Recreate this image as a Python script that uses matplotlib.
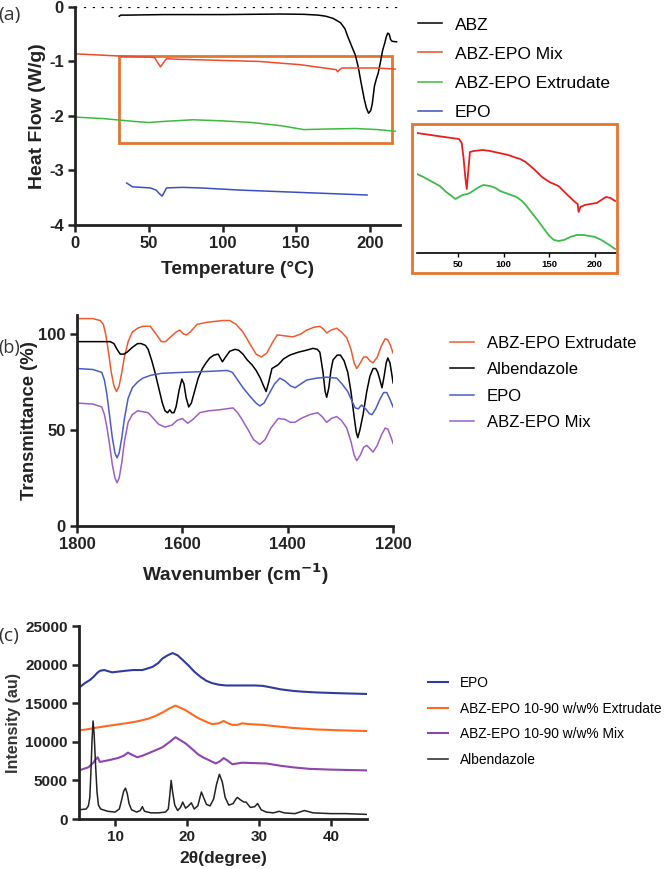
import matplotlib.pyplot as plt
from matplotlib.patches import Rectangle

plt.rcParams["font.family"] = ["Liberation Sans", "DejaVu Sans"]
plt.rcParams["axes.unicode_minus"] = False

# ---------------- (a) DSC ----------------
abz_t = [30, 31, 35, 60, 100, 139, 155, 165, 170, 175, 180, 183, 185, 188, 190, 192, 194,
         196, 197.5, 199, 200.5, 201.5, 203, 204.5, 205.5, 207, 208.5, 210, 211, 212, 213,
         214, 215, 218]
abz_hf = [-0.17, -0.15, -0.15, -0.14, -0.14, -0.13, -0.135, -0.15, -0.17, -0.21, -0.29,
          -0.40, -0.55, -0.75, -0.88, -1.10, -1.40, -1.68, -1.85, -1.95, -1.90, -1.78,
          -1.45, -1.30, -1.22, -1.02, -0.80, -0.66, -0.55, -0.48, -0.50, -0.60, -0.63, -0.64]

mix_t = [0, 30, 50, 54, 56, 58, 60, 62, 70, 85, 125, 153, 177, 178, 179, 181, 204, 217]
mix_hf = [-0.86, -0.9, -0.92, -0.93, -1.02, -1.10, -1.02, -0.95, -0.96, -0.97, -1.0,
          -1.06, -1.15, -1.19, -1.16, -1.12, -1.12, -1.14]

ext_t = [0, 20, 40, 50, 60, 80, 100, 120, 140, 155, 170, 190, 205, 217]
ext_hf = [-2.02, -2.05, -2.10, -2.12, -2.10, -2.07, -2.09, -2.12, -2.18, -2.25, -2.24,
          -2.23, -2.25, -2.28]

epo_t = [35, 39, 51, 55, 57, 59, 60.5, 62, 73, 85, 112, 150, 198]
epo_hf = [-3.23, -3.30, -3.32, -3.36, -3.42, -3.47, -3.40, -3.32, -3.31, -3.32, -3.36,
          -3.40, -3.45]

# inset (magnified view, arbitrary units)
ins_red_t = [5, 20, 35, 51, 54, 56, 58, 59.5, 61, 63, 67, 77, 85, 95, 105, 111, 118, 124,
             133, 142, 150, 160, 170, 178, 181, 182, 184, 189, 195, 202, 207, 212, 217, 222]
ins_red = [120, 118, 116, 114, 110, 95, 75, 64, 80, 101, 102, 103, 102, 100, 98, 96, 94,
           91, 84, 76, 71, 67, 58, 51, 49, 41, 46, 48, 49, 50, 53, 56, 55, 52]
ins_grn_t = [5, 12, 22, 30, 37, 43, 47, 51, 55, 60, 63, 68, 73, 78, 85, 91, 96, 102, 108,
             114, 120, 125, 130, 137, 145, 150, 155, 160, 166, 173, 180, 187, 194, 200,
             207, 214, 222]
ins_grn = [79, 76, 71, 67, 61, 57, 54, 56, 58, 59, 60, 63, 66, 68, 67, 65, 62, 60, 58, 56,
           52, 47, 41, 33, 23, 17, 13, 12, 13, 16, 18, 18, 17, 16, 13, 9, 4]

# ---------------- (b) FTIR ----------------
ext_wn = [1800, 1770, 1756, 1750, 1745, 1740, 1735, 1730, 1725, 1720, 1715, 1710, 1703,
          1695, 1685, 1675, 1661, 1650, 1640, 1632, 1624, 1612, 1605, 1598, 1592, 1585,
          1572, 1555, 1540, 1523, 1510, 1498, 1485, 1470, 1460, 1450, 1440, 1430, 1420,
          1405, 1390, 1375, 1364, 1350, 1339, 1332, 1326, 1318, 1307, 1298, 1288, 1280,
          1274, 1269, 1262, 1256, 1250, 1244, 1238, 1230, 1222, 1215, 1210, 1205, 1200]
ext_tr = [108, 108, 107, 105, 99, 90, 80, 73, 70, 73, 80, 88, 96, 101, 103, 104, 104, 100,
          96, 96, 98, 101, 102, 100, 99.5, 101, 105, 106, 106.5, 107, 107, 105, 101, 94,
          89.5, 88, 90, 95, 99.5, 99, 98.5, 100, 102, 103.5, 104, 102.5, 100.5, 102, 103,
          101, 98, 92, 85, 82, 85, 88, 88, 86, 85, 88, 94, 97.5, 97, 94, 90]

abz_wn = [1800, 1770, 1737, 1730, 1724, 1718, 1711, 1705, 1695, 1685, 1678, 1670, 1665,
          1658, 1652, 1645, 1638, 1633, 1628, 1624, 1620, 1616, 1612, 1606, 1601, 1597,
          1593, 1588, 1583, 1577, 1570, 1562, 1555, 1548, 1540, 1532, 1527, 1524, 1518,
          1510, 1500, 1493, 1485, 1477, 1468, 1460, 1452, 1446, 1441, 1436, 1430, 1424,
          1418, 1408, 1396, 1380, 1365, 1352, 1344, 1339, 1333, 1329, 1326, 1322, 1318,
          1314, 1306, 1300, 1293, 1286, 1280, 1274, 1270, 1267, 1263, 1257, 1250, 1244,
          1238, 1233, 1229, 1225, 1221, 1217, 1213, 1210, 1206, 1203, 1200]
abz_tr = [96, 96, 96, 95, 92, 89.5, 89.5, 90.5, 93, 95, 95, 94, 92, 86, 80, 72, 64, 60,
          59, 60.5, 59, 59, 62, 71, 76.5, 74, 67, 62, 64, 70, 77, 82, 85, 87.5, 89, 89.5,
          87, 85.5, 88, 91, 92, 91.5, 89.5, 86.5, 84, 81, 77, 73, 70, 75, 82, 83, 84, 87,
          89, 90.5, 91.5, 92.5, 92, 90.5, 80, 70, 67, 72, 81, 86.5, 89, 89, 86, 80, 70, 57,
          49, 46, 50, 58, 70, 78, 82, 82, 80, 76, 72, 78, 85, 87.5, 85, 80, 74.5]

epo_wn = [1800, 1770, 1753, 1748, 1743, 1738, 1733, 1728, 1724, 1720, 1715, 1710, 1703,
          1695, 1685, 1675, 1660, 1640, 1600, 1550, 1515, 1505, 1495, 1485, 1470, 1460,
          1453, 1445, 1435, 1425, 1415, 1405, 1395, 1386, 1375, 1364, 1345, 1326, 1307,
          1297, 1286, 1278, 1272, 1266, 1260, 1252, 1245, 1240, 1233, 1225, 1218, 1212,
          1206, 1200]
epo_tr = [82, 81.5, 80, 76, 68, 57, 46, 38, 35.5, 38, 46, 56, 66.5, 72, 75, 77, 78.5, 79.5,
          80, 80.5, 81, 80, 76, 72, 67, 64, 62.5, 64, 69, 74, 77, 75.5, 73, 72, 74, 76, 77,
          77.5, 77, 74, 70, 65, 61.5, 61, 63, 61, 58.5, 58, 61, 66, 69.5, 69.5, 66, 62]

mix_wn = [1800, 1770, 1753, 1748, 1743, 1738, 1733, 1728, 1724, 1720, 1715, 1710, 1703,
          1695, 1685, 1675, 1665, 1655, 1645, 1633, 1620, 1610, 1600, 1590, 1580, 1567,
          1550, 1530, 1504, 1495, 1488, 1475, 1465, 1453, 1443, 1432, 1418, 1405, 1395,
          1386, 1375, 1358, 1343, 1335, 1326, 1317, 1307, 1298, 1288, 1280, 1274, 1269,
          1262, 1256, 1250, 1243, 1238, 1230, 1222, 1215, 1210, 1205, 1200]
mix_tr = [64, 63.5, 62, 58, 51, 42, 32, 25, 22.5, 25, 33, 44, 54, 58, 60, 59.5, 59, 56,
          53, 51.5, 52.5, 55, 56, 53.5, 55.5, 59, 60, 60.5, 61.5, 59, 56, 50, 45, 42.5,
          45, 51, 56, 55.5, 54, 54, 56, 58, 59, 57, 54, 56, 57, 55, 51, 44, 37, 34, 37,
          41, 42, 40, 38.5, 42, 47.5, 51, 50.5, 47, 43]

# ---------------- (c) XRD ----------------
xrd_epo_2t = [5, 5.8, 6.5, 7, 7.5, 7.9, 8.5, 9.6, 10.5, 11.4, 12.5, 13.8, 14.5, 15.2, 16,
              16.6, 17.3, 18, 18.7, 19.4, 20.2, 21, 21.9, 22.7, 23.5, 24.4, 25.4, 27.5,
              29.5, 30.5, 31.4, 33, 34.7, 36, 37.9, 41, 45]
xrd_epo = [17000, 17600, 18000, 18400, 18900, 19200, 19300, 19000, 19100, 19200, 19300,
           19300, 19500, 19700, 20200, 20800, 21200, 21500, 21200, 20600, 19900, 19100,
           18400, 17900, 17600, 17400, 17300, 17300, 17300, 17250, 17100, 16800, 16600,
           16500, 16400, 16300, 16200]

xrd_ext_2t = [5, 5.05, 6, 7.2, 8.5, 10, 11.5, 12.8, 13.8, 14.6, 15.5, 16.6, 17.5, 18.4,
              19.1, 19.8, 20.8, 21.5, 22.2, 22.9, 23.5, 24.4, 25.1, 25.7, 26.3, 27, 27.7,
              28.5, 30.5, 32.5, 34.7, 38, 41, 45]
xrd_ext = [12800, 11500, 11600, 11800, 12000, 12200, 12400, 12600, 12800, 13000, 13300,
           13800, 14300, 14700, 14400, 14100, 13500, 13100, 12800, 12500, 12300, 12400,
           12700, 12400, 12200, 12200, 12400, 12300, 12200, 12000, 11800, 11600, 11500,
           11400]

xrd_mix_2t = [5, 6.3, 7, 7.2, 7.6, 7.9, 8.5, 9.5, 10.4, 11.2, 11.8, 12.4, 13.1, 13.8, 14.6,
              15.6, 16.6, 17.6, 18.4, 19.1, 19.8, 20.8, 21.5, 22.2, 23.1, 24, 24.6, 25.1,
              25.6, 26.3, 27, 27.7, 29, 31, 33, 34.7, 37, 40, 45]
xrd_mix = [6300, 6700, 7300, 7600, 8000, 7400, 7500, 7700, 7900, 8200, 8600, 8300, 8000,
           8200, 8500, 8900, 9300, 10000, 10600, 10200, 9800, 9000, 8400, 8000, 7600, 7200,
           7500, 7900, 7600, 7100, 7200, 7300, 7250, 7200, 6900, 6700, 6500, 6400, 6300]

xrd_abz_2t = [5, 5.5, 6, 6.3, 6.5, 6.65, 6.8, 6.95, 7.1, 7.3, 7.5, 7.7, 8, 9, 10, 10.6,
              10.9, 11.2, 11.45, 11.7, 11.95, 12.3, 13, 13.5, 13.8, 14.1, 15, 16, 17, 17.4,
              17.6, 17.8, 18.0, 18.3, 18.7, 19.1, 19.4, 19.8, 20.2, 20.6, 21, 21.5, 21.8,
              22, 22.3, 22.7, 23.2, 23.7, 24.1, 24.5, 24.9, 25.3, 25.8, 26.4, 26.8, 27,
              27.4, 27.9, 28.2, 28.8, 29.4, 29.8, 30.3, 31, 32, 32.8, 33.5, 35, 36.3, 37.5,
              40, 42, 45]
xrd_abz = [1200, 1250, 1300, 1700, 2800, 6000, 10000, 12700, 11000, 7000, 3500, 1800, 1300,
           1000, 900, 1300, 2400, 3600, 4000, 3300, 2000, 1200, 900, 1100, 1600, 1000, 800,
           800, 900, 1300, 3000, 5000, 3500, 1800, 1100, 1500, 2200, 1400, 1700, 2100, 1300,
           1700, 2800, 3500, 2800, 1900, 1700, 2600, 4500, 5800, 4800, 2800, 1800, 2000,
           2600, 2800, 2500, 2200, 2200, 1500, 1600, 2000, 1200, 900, 800, 1000, 800, 700,
           1100, 800, 700, 700, 600]

ORANGE_BOX = "#E2762F"


def style_axes(ax, size):
    for s in ["top", "right"]:
        ax.spines[s].set_visible(False)
    for s in ["left", "bottom"]:
        ax.spines[s].set_linewidth(2)
        ax.spines[s].set_color("#222222")
    ax.tick_params(width=1.8, length=5, labelsize=size, color="#222222", pad=3)
    for lab in ax.get_xticklabels() + ax.get_yticklabels():
        lab.set_fontweight("bold")
        lab.set_color("#222222")


fig = plt.figure(figsize=(6.64, 8.69), dpi=100)

# ---- panel (a)
ax1 = fig.add_axes([0.113, 0.7411, 0.4887, 0.2509])
ax1.plot(abz_t, abz_hf, color="black", lw=1.1, label="ABZ")
ax1.plot(mix_t, mix_hf, color="#EF4A2C", lw=1.1, label="ABZ-EPO Mix")
ax1.plot(ext_t, ext_hf, color="#3DBA3D", lw=1.1, label="ABZ-EPO Extrudate")
ax1.plot(epo_t, epo_hf, color="#3B4FC4", lw=1.1, label="EPO")
ax1.axhline(0, color="black", lw=1.6, ls=(0, (1, 3)))
ax1.add_patch(Rectangle((30, -2.5), 185, 1.6, fill=False, ec=ORANGE_BOX, lw=2))
ax1.set_xlim(0, 220)
ax1.set_ylim(-4, 0)
ax1.set_xticks([0, 50, 100, 150, 200])
ax1.set_yticks([-4, -3, -2, -1, 0])
style_axes(ax1, 12)
ax1.set_xlabel("Temperature (\u00b0C)", fontsize=13.7, fontweight="bold", labelpad=7,
               color="#222222")
ax1.set_ylabel("Heat Flow (W/g)", fontsize=14, fontweight="bold", labelpad=2,
               color="#222222")
fig.legend(*ax1.get_legend_handles_labels(), loc="upper left",
           bbox_to_anchor=(0.629, 0.980), frameon=False, fontsize=12.5,
           handlelength=1.4, handletextpad=0.75, labelspacing=0.8,
           borderpad=0, borderaxespad=0)

# inset
fig.patches.append(Rectangle((0.6205, 0.6858), 0.3087, 0.1715, fill=False,
                             ec=ORANGE_BOX, lw=2, transform=fig.transFigure, figure=fig))
axi = fig.add_axes([0.628, 0.7089, 0.2997, 0.1438])
axi.plot(ins_red_t, ins_red, color="#E8201C", lw=1.3)
axi.plot(ins_grn_t, ins_grn, color="#3DBA4A", lw=1.3)
axi.set_xlim(5, 223)
axi.set_ylim(0, 125)
axi.set_xticks([50, 100, 150, 200])
axi.set_yticks([])
for s in ["top", "right", "left"]:
    axi.spines[s].set_visible(False)
axi.spines["bottom"].set_linewidth(1.2)
axi.tick_params(axis="x", length=3, width=1, labelsize=6.8, pad=2)
for lab in axi.get_xticklabels():
    lab.set_fontweight("bold")
axi.patch.set_alpha(0)

# ---- panel (b)
ax2 = fig.add_axes([0.116, 0.3947, 0.476, 0.2431])
ax2.plot(ext_wn, ext_tr, color="#F05A30", lw=1.1, label="ABZ-EPO Extrudate")
ax2.plot(abz_wn, abz_tr, color="black", lw=1.1, label="Albendazole")
ax2.plot(epo_wn, epo_tr, color="#4A5CC8", lw=1.1, label="EPO")
ax2.plot(mix_wn, mix_tr, color="#9E5EC6", lw=1.1, label="ABZ-EPO Mix")
ax2.set_xlim(1800, 1200)
ax2.set_ylim(0, 110)
ax2.set_xticks([1800, 1600, 1400, 1200])
ax2.set_yticks([0, 50, 100])
style_axes(ax2, 12)
ax2.set_xlabel("Wavenumber (cm$^{\\mathbf{-1}}$)", fontsize=13.7, fontweight="bold",
               labelpad=7, color="#222222")
ax2.set_ylabel("Transmittance (%)", fontsize=13.3, fontweight="bold", labelpad=0,
               color="#222222")
fig.legend(*ax2.get_legend_handles_labels(), loc="upper left",
           bbox_to_anchor=(0.678, 0.6135), frameon=False, fontsize=12,
           handlelength=1.4, handletextpad=0.8, labelspacing=0.68,
           borderpad=0, borderaxespad=0)

# ---- panel (c)
ax3 = fig.add_axes([0.119, 0.0575, 0.4337, 0.2221])
ax3.plot(xrd_epo_2t, xrd_epo, color="#2F3C9E", lw=1.5, label="EPO")
ax3.plot(xrd_ext_2t, xrd_ext, color="#FF6A1F", lw=1.5,
         label="ABZ-EPO 10-90 w/w% Extrudate")
ax3.plot(xrd_mix_2t, xrd_mix, color="#8D45B0", lw=1.5, label="ABZ-EPO 10-90 w/w% Mix")
ax3.plot(xrd_abz_2t, xrd_abz, color="#222222", lw=1.1, label="Albendazole")
ax3.set_xlim(5, 45)
ax3.set_ylim(0, 25000)
ax3.set_xticks([10, 20, 30, 40])
ax3.set_yticks([0, 5000, 10000, 15000, 20000, 25000])
style_axes(ax3, 11)
ax3.set_xlabel("2\u03b8(degree)", fontsize=12.5, fontweight="bold", labelpad=5,
               color="#222222")
ax3.set_ylabel("Intensity (au)", fontsize=11.5, fontweight="bold", labelpad=3,
               color="#333333")
fig.legend(*ax3.get_legend_handles_labels(), loc="upper left",
           bbox_to_anchor=(0.645, 0.222), frameon=False, fontsize=9.9,
           handlelength=1.4, handletextpad=0.9, labelspacing=0.84,
           borderpad=0, borderaxespad=0)

# panel letters
for txt, y, fs in [("(a)", 0.983, 14), ("(b)", 0.599, 13), ("(c)", 0.268, 14)]:
    fig.text(-0.002, y, txt, fontsize=fs, family="Open Sans", va="center", ha="left",
             color="#333333")

fig.savefig("out.png", dpi=100)
